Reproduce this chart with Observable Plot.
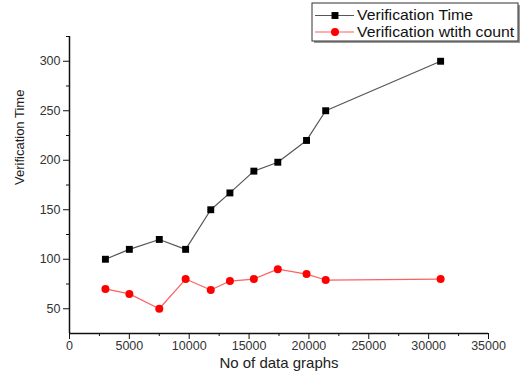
<!DOCTYPE html>
<html>
<head>
<meta charset="utf-8">
<script src="https://cdn.jsdelivr.net/npm/d3@7"></script>
<script src="https://cdn.jsdelivr.net/npm/@observablehq/plot@0.6"></script>
<style>
  html, body { margin: 0; padding: 0; background: #fff; }
  #chart { width: 520px; height: 380px; }
  svg { overflow: visible; }
</style>
</head>
<body>
<div id="chart"></div>
<script>
const graphs = [3000, 5000, 7500, 9700, 11800, 13400, 15400, 17400, 19800, 21400, 31000];
const verificationTime = [100, 110, 120, 110, 150, 167, 189, 198, 220, 250, 300];
const verificationWithCount = [70, 65, 50, 80, 69, 78, 80, 90, 85, 79, 80];
const seriesNames = ["Verification Time", "Verification wtith count"];
const xTicks = [0, 5000, 10000, 15000, 20000, 25000, 30000, 35000];
const xMinorTicks = [2500, 7500, 12500, 17500, 22500, 27500, 32500];
const yTicks = [50, 100, 150, 200, 250, 300];
const yMinorTicks = [75, 125, 175, 225, 275, 325];

const timeData = graphs.map((x, i) => ({x, y: verificationTime[i]}));
const countData = graphs.map((x, i) => ({x, y: verificationWithCount[i]}));

const font = "Arial, 'Liberation Sans', sans-serif";

const plot = Plot.plot({
  width: 520,
  height: 380,
  marginLeft: 69,
  marginRight: 32,
  marginTop: 36,
  marginBottom: 47,
  style: {fontFamily: font, background: "#fff", color: "#222"},
  x: {domain: [0, 35000]},
  y: {domain: [25, 325]},
  marks: [
    Plot.axisX({ticks: xTicks, tickSize: 6, tickPadding: 2, fontSize: 12.5, label: null, tickFormat: d => String(d), stroke: "#111", fill: "#333"}),
    Plot.axisX({ticks: xMinorTicks, tickSize: 3, label: null, tickFormat: () => "", stroke: "#111"}),
    Plot.axisY({ticks: yTicks, tickSize: 6, tickPadding: 3, fontSize: 12.5, label: null, tickFormat: d => String(d), stroke: "#111", fill: "#333"}),
    Plot.axisY({ticks: yMinorTicks, tickSize: 3, label: null, tickFormat: () => "", stroke: "#111"}),
    Plot.ruleY([25], {stroke: "#111", strokeWidth: 1.5}),
    Plot.ruleX([0], {stroke: "#111", strokeWidth: 1.5}),
    Plot.text(["No of data graphs"], {frameAnchor: "bottom", dy: 34, fontSize: 15, fill: "#222"}),
    Plot.text(["Verification Time"], {frameAnchor: "left", dx: -50, rotate: -90, fontSize: 13, fill: "#222"}),
    Plot.line(timeData, {x: "x", y: "y", stroke: "#555", strokeWidth: 1.2}),
    Plot.dot(timeData, {x: "x", y: "y", symbol: "square", r: 3.9, fill: "#000"}),
    Plot.line(countData, {x: "x", y: "y", stroke: "#ff6060", strokeWidth: 1.2}),
    Plot.dot(countData, {x: "x", y: "y", symbol: "circle", r: 4, fill: "#ff0000"})
  ]
});

document.getElementById("chart").appendChild(plot);

// Legend box (top-right)
const svg = d3.select(plot);
const lg = svg.append("g").attr("font-family", font).attr("text-anchor", "start");
lg.append("rect").attr("x", 314).attr("y", 5).attr("width", 206).attr("height", 38).attr("fill", "#999");
lg.append("rect").attr("x", 312).attr("y", 3).attr("width", 206).attr("height", 38).attr("fill", "#fff").attr("stroke", "#333").attr("stroke-width", 1);
const legendItems = [
  {name: seriesNames[0], line: "#555", fill: "#000", symbol: d3.symbolSquare, size: 48},
  {name: seriesNames[1], line: "#ff6060", fill: "#ff0000", symbol: d3.symbolCircle, size: 50}
];
legendItems.forEach((it, i) => {
  const yy = 15.5 + i * 16.5;
  lg.append("line").attr("x1", 315).attr("x2", 354).attr("y1", yy).attr("y2", yy).attr("stroke", it.line).attr("stroke-width", 1.2);
  lg.append("path").attr("d", d3.symbol(it.symbol, it.size)()).attr("transform", `translate(335,${yy})`).attr("fill", it.fill);
  lg.append("text").attr("transform", `translate(357,${yy}) scale(1.13,1)`).attr("dy", "0.35em").attr("font-size", 14).attr("fill", "#111").attr("text-anchor", "start").text(it.name);
});
</script>
</body>
</html>
